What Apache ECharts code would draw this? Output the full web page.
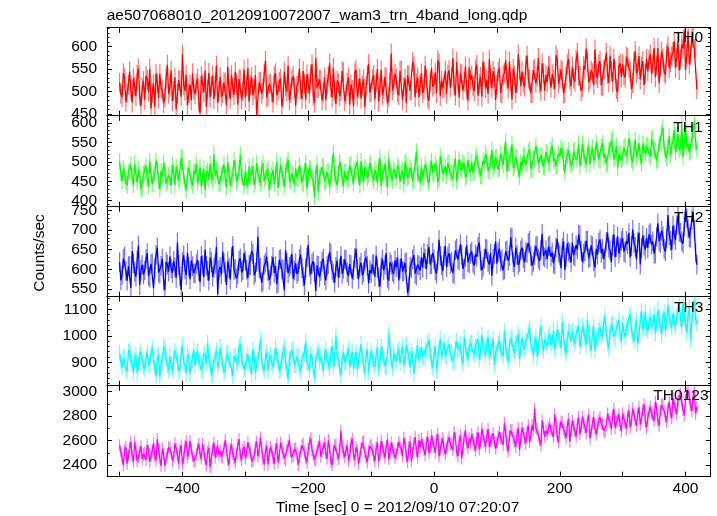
<!DOCTYPE html>
<html><head><meta charset="utf-8">
<script src="https://cdn.jsdelivr.net/npm/echarts@6/dist/echarts.min.js"></script>
<style>html,body{margin:0;padding:0;background:#fff}#c{width:717px;height:516px}</style>
</head><body><div id="c"></div>
<script>
// time bins (sec): first bin and bin width
const binStart = -500, binWidth = 2;

const th0 = [
520,496,488,541,531,478,497,515,545,503,476,529,512,490,538,552,493,468,509,524,
482,535,527,499,551,463,498,517,466,540,519,486,540,508,503,474,487,529,560,495,
511,547,479,502,532,461,495,526,524,489,583,514,502,538,470,497,516,481,541,505,
494,518,529,477,452,535,518,499,547,466,505,542,488,513,536,484,512,558,475,501,
533,489,497,521,520,470,556,506,484,537,509,493,544,519,471,528,526,483,500,549,
487,514,552,478,515,532,492,505,537,449,448,521,523,496,506,540,569,487,490,517,
518,499,476,534,541,492,503,522,529,468,486,545,512,500,558,481,497,527,534,510,
469,513,521,551,505,484,546,518,483,539,517,496,539,561,492,475,575,508,508,527,
526,481,498,532,481,517,534,563,510,487,553,502,472,525,519,490,502,546,543,479,
495,520,532,471,516,504,468,541,549,489,507,530,485,513,528,466,511,537,562,498,
499,528,537,483,520,551,478,509,548,492,506,533,531,474,489,519,585,503,515,540,
530,499,492,546,548,481,511,529,475,537,536,502,503,566,557,488,519,532,488,514,
541,497,506,558,529,486,480,523,552,511,517,543,497,570,563,490,524,508,509,547,
495,538,548,509,531,574,513,492,566,525,487,541,539,503,522,556,505,480,554,527,
537,512,501,549,560,491,518,533,489,567,544,508,527,495,572,531,508,546,533,481,
515,544,553,498,496,536,541,570,528,507,567,523,482,551,536,497,519,583,549,512,
545,521,511,558,580,529,526,497,497,548,551,519,534,575,518,502,563,541,502,537,
521,556,558,509,539,527,506,581,572,518,530,549,545,496,497,534,561,573,527,512,
556,529,522,571,587,535,535,502,510,558,549,596,566,521,528,547,541,515,594,538,
530,561,568,514,512,549,551,587,539,520,580,545,521,573,547,506,499,558,563,532,
562,537,531,578,575,552,545,506,519,567,590,541,550,579,527,556,568,515,540,573,
545,572,583,540,561,597,532,558,597,519,556,589,574,543,538,585,601,552,566,579,
589,612,553,577,612,548,571,605,596,636,548,583,634,561,580,619,621,595,598,505];

const th1 = [
500,471,451,483,470,446,439,474,476,492,458,441,495,466,447,480,466,429,432,469,
474,490,455,437,501,468,443,459,468,503,487,451,430,476,462,497,479,444,449,465,
459,438,492,470,441,487,473,452,456,510,511,463,446,428,467,484,483,450,438,476,
469,495,448,461,486,437,460,482,427,470,477,453,495,464,452,519,464,478,481,442,
445,467,472,493,458,434,499,471,440,456,466,505,484,448,453,476,518,462,461,437,
476,452,437,488,463,471,489,440,452,497,470,459,445,483,496,451,459,474,482,428,
450,466,479,443,466,500,433,461,491,478,457,436,474,492,505,455,448,470,468,441,
483,459,455,490,472,447,442,476,497,430,463,485,480,458,451,409,469,493,421,462,
464,487,490,451,447,473,476,436,458,494,523,467,452,440,471,499,486,455,439,475,
473,452,456,491,494,462,445,478,480,501,462,440,501,471,449,486,477,458,466,497,
492,461,451,479,470,446,487,510,438,466,475,494,459,433,508,480,463,452,481,474,
457,490,484,449,469,477,442,500,496,458,464,485,478,451,453,493,527,468,471,446,
488,459,461,493,479,452,445,485,502,471,467,496,485,448,456,514,495,468,474,488,
463,497,497,470,472,455,489,508,451,476,506,484,477,498,492,459,466,504,484,472,
500,471,473,509,516,488,481,464,462,503,494,520,508,477,476,499,531,481,489,512,
512,479,484,521,503,492,527,552,475,497,498,519,545,484,490,513,509,478,461,500,
486,515,518,492,497,526,532,481,479,508,507,540,521,495,493,517,515,487,484,525,
523,496,495,530,541,502,508,489,488,522,514,536,529,497,472,509,517,530,503,491,
497,526,531,505,512,547,489,511,547,522,506,493,524,539,493,520,536,502,515,549,
532,507,503,538,548,511,519,494,496,530,527,555,560,506,510,541,485,519,523,503,
508,536,541,512,517,560,535,506,499,529,556,513,524,548,512,495,547,532,521,540,
544,520,513,558,562,529,530,503,506,546,549,575,588,533,521,509,538,566,516,541,
553,582,524,545,571,530,537,596,512,551,595,537,546,524,528,559,560,604,549,532];

const th2 = [
618,572,585,627,632,596,571,608,609,553,646,615,594,581,623,660,560,599,611,587,
597,625,641,583,579,614,616,552,603,637,655,592,588,609,627,570,548,619,612,594,
633,602,591,621,605,578,668,611,582,547,619,636,600,585,642,606,575,622,608,590,
589,613,624,596,567,634,611,580,650,609,596,571,630,618,581,603,614,657,537,598,
606,587,645,616,593,560,620,603,574,631,659,598,601,577,587,622,628,592,598,641,
621,599,578,612,610,646,639,585,592,619,683,602,604,566,569,611,617,632,595,573,
584,609,631,590,608,563,566,624,626,600,599,547,648,617,590,606,612,639,576,597,
615,588,594,626,637,603,581,559,603,631,662,607,587,614,620,593,545,610,609,580,
596,619,627,584,572,608,613,644,640,597,590,566,606,622,579,603,634,588,601,625,
624,592,583,613,611,576,598,629,652,601,575,607,617,585,593,622,630,609,564,598,
590,612,614,581,635,603,580,556,607,626,597,611,641,578,571,618,612,594,588,623,
605,630,572,601,628,594,595,616,618,540,556,607,603,625,636,589,584,612,610,597,
631,604,642,627,600,639,657,612,613,642,626,598,589,623,675,634,610,596,634,659,
605,633,641,614,619,591,587,648,653,625,622,664,636,601,600,631,661,618,615,639,
645,616,610,638,632,657,668,621,598,606,627,652,651,619,612,640,583,627,639,671,
614,643,652,620,625,597,600,646,648,622,633,681,679,618,606,655,637,611,619,648,
655,628,618,644,641,667,672,634,609,619,636,658,660,627,621,650,690,634,630,649,
626,658,661,632,643,615,612,655,677,643,635,603,654,671,598,630,666,645,641,618,
668,636,632,661,650,688,687,647,619,640,646,673,673,628,630,661,658,620,604,652,
637,668,676,641,652,626,625,670,693,655,648,618,662,689,631,656,684,640,655,672,
679,645,641,672,664,692,630,658,701,667,657,625,669,693,612,654,686,661,650,679,
654,689,692,663,671,640,640,682,717,671,666,698,684,652,645,679,738,687,672,650,
711,688,674,712,736,695,693,671,665,709,752,730,703,681,680,725,745,699,642,612];

const th3 = [
935,902,880,918,921,874,866,939,947,910,893,861,910,927,859,895,928,943,901,884,
874,915,938,889,897,931,955,904,882,847,916,930,843,898,907,960,951,913,889,870,
923,890,869,912,944,925,901,866,878,934,962,899,891,858,930,917,855,900,912,949,
886,927,941,904,903,871,868,935,927,896,974,913,895,850,852,908,918,945,880,899,
957,918,898,861,872,932,936,905,909,876,847,924,925,902,890,959,968,911,904,873,
876,906,931,896,894,855,949,920,861,893,913,942,987,904,885,866,920,938,867,912,
929,897,883,915,956,926,902,868,871,906,940,958,898,875,834,912,917,946,950,889,
890,921,924,880,865,913,911,937,979,900,896,871,933,916,873,842,906,930,946,903,
921,893,869,928,948,907,899,876,930,961,884,910,1002,925,911,874,852,917,937,900,
895,929,952,881,914,940,878,905,940,872,906,933,969,918,887,860,925,948,863,909,
944,915,898,883,925,958,871,900,959,931,912,886,880,924,1010,951,903,878,934,917,
903,936,951,898,927,961,889,914,966,940,918,879,942,927,856,903,935,962,909,929,
957,920,914,948,941,969,985,932,902,879,933,961,868,912,952,988,921,939,976,925,
922,955,968,931,937,905,899,951,981,947,944,968,916,893,995,958,931,910,958,972,
975,940,929,963,956,989,910,937,1003,958,947,925,970,995,918,941,962,987,889,935,
938,971,982,945,951,923,1019,966,927,902,963,990,994,948,935,974,970,1008,912,951,
991,959,948,982,976,1014,1030,972,955,925,969,996,921,958,1002,1037,960,943,986,974,
961,995,1008,966,977,1021,946,983,1025,998,983,952,1052,1001,954,931,990,1016,1014,979,
1019,987,970,1008,1003,1041,957,990,1038,1016,992,964,1061,1009,968,945,1011,1034,944,990,
981,1019,1032,995,1006,1050,1074,1011,972,952,1015,1043,1045,996,989,1028,1024,1061,1001,980,
1047,1012,995,1033,1029,1066,1082,1020,1004,979,1036,1058,968,1001,1059,1094,1021,1040,1090,1027,
1018,1055,1071,1033,1045,1082,1009,1042,1098,1060,1038,1005,1064,1088,1022,1049,1117,1069,1052,1031,
1084,1049,1036,1075,1093,1126,1061,1033,1128,1079,1047,1010,1079,1105,985,1052,1101,1134,1066,1045];

const th0123 = [
2560,2512,2455,2398,2520,2547,2410,2476,2538,2591,2472,2430,2590,2515,2431,2467,2505,2552,2448,2491,
2497,2441,2563,2520,2425,2474,2518,2580,2470,2436,2612,2529,2451,2392,2533,2488,2392,2459,2489,2545,
2541,2503,2436,2467,2576,2531,2483,2412,2519,2560,2407,2458,2552,2596,2466,2495,2598,2527,2474,2432,
2429,2486,2535,2572,2489,2451,2571,2518,2445,2399,2508,2540,2381,2463,2527,2582,2461,2510,2556,2485,
2512,2468,2463,2537,2603,2524,2441,2402,2530,2569,2490,2453,2418,2495,2567,2612,2476,2440,2521,2550,
2458,2501,2585,2537,2500,2429,2433,2476,2547,2590,2471,2516,2626,2541,2452,2405,2515,2553,2404,2487,
2548,2517,2461,2410,2529,2572,2419,2480,2582,2538,2493,2454,2440,2521,2557,2601,2508,2463,2476,2530,
2533,2490,2398,2467,2511,2559,2574,2506,2455,2421,2529,2583,2618,2522,2482,2444,2436,2515,2551,2597,
2469,2512,2540,2584,2492,2451,2603,2537,2425,2398,2517,2560,2563,2489,2448,2527,2680,2546,2502,2465,
2521,2557,2434,2478,2579,2616,2487,2439,2545,2518,2413,2468,2532,2584,2595,2506,2460,2422,2514,2553,
2566,2523,2472,2431,2538,2581,2428,2487,2597,2546,2506,2459,2551,2610,2449,2494,2584,2537,2497,2461,
2488,2537,2589,2548,2527,2473,2621,2572,2470,2426,2546,2592,2432,2498,2573,2628,2515,2463,2604,2551,
2612,2569,2523,2480,2585,2631,2497,2542,2641,2596,2548,2501,2603,2655,2470,2529,2576,2617,2530,2488,
2538,2594,2627,2571,2571,2522,2669,2615,2512,2473,2596,2641,2454,2533,2633,2682,2580,2538,2617,2576,
2652,2609,2563,2518,2619,2667,2528,2581,2698,2642,2591,2550,2640,2694,2547,2596,2611,2659,2585,2536,
2583,2630,2671,2619,2617,2566,2745,2668,2560,2511,2638,2683,2685,2622,2594,2549,2652,2701,2524,2610,
2704,2661,2618,2574,2671,2722,2587,2640,2729,2684,2860,2702,2694,2637,2605,2560,2766,2697,2632,2681,
2651,2703,2738,2689,2679,2627,2815,2741,2631,2585,2702,2756,2749,2690,2667,2619,2723,2778,2590,2684,
2764,2718,2680,2631,2738,2789,2652,2706,2795,2747,2709,2660,2758,2812,2618,2681,2741,2793,2697,2650,
2710,2763,2792,2741,2734,2681,2667,2724,2821,2776,2748,2697,2803,2858,2701,2750,2769,2815,2726,2679,
2823,2774,2741,2697,2799,2848,2708,2760,2862,2811,2770,2722,2815,2873,2731,2784,2850,2897,2759,2706,
2789,2838,2874,2821,2811,2762,2916,2863,2768,2722,2842,2891,2901,2840,2795,2751,2862,2917,2830,2783,
2947,2896,2861,2817,2925,2974,2980,2921,2852,2806,2936,2985,3012,2948,2884,2843,2955,3008,2820,2875];

const panelNames = ['TH0', 'TH1', 'TH2', 'TH3', 'TH0123'];
const seriesValues = [th0, th1, th2, th3, th0123];
const errHalf = [22, 21, 25, 30, 50];
const yMin = [446.7, 384.6, 530.4, 811.7, 2304];
const yMax = [642.2, 618.3, 759, 1147.5, 3049];
const yMajor = [[450,500,550,600],[400,450,500,550,600],[550,600,650,700,750],[900,1000,1100],[2400,2600,2800,3000]];
const yMinorStep = [10, 10, 10, 20, 100];
const xTickValues = [-500,-400,-300,-200,-100,0,100,200,300,400];
const xLabelValues = [-400,-200,0,200,400];
const xMin = -520, xMax = 440;

const lineColors = ['#ff0000', '#00ff00', '#0000ff', '#00ffff', '#ff00ff'];
const errColors = ['rgba(255,0,0,0.55)', 'rgba(0,255,0,0.55)', 'rgba(0,0,255,0.55)', 'rgba(0,255,255,0.55)', 'rgba(255,0,255,0.55)'];
const gridTops = [27.7, 115.7, 206.7, 296.7, 385.7];
const gridBottoms = [115.7, 206.7, 296.7, 385.7, 476.7];
const labelY = [37.3, 127.3, 217.3, 307.3, 396];
const labelRight = [703, 702.5, 703.3, 703.3, 708.5];

const FONT = "'Liberation Sans', Arial, Helvetica, sans-serif";
const FS = 15.5;
const INK = '#000';

function minorValues(i) {
  const out = [];
  const s = yMinorStep[i];
  for (let v = Math.ceil(yMin[i] / s) * s; v <= yMax[i]; v += s) out.push(v);
  return out;
}
const fmt = v => (v < 0 ? '\u2212' : '') + String(Math.abs(v));

const grid = [], xAxis = [], yAxis = [], series = [], graphic = [];
for (let i = 0; i < 5; i++) {
  grid.push({left: 107, width: 603.7, top: gridTops[i], height: gridBottoms[i] - gridTops[i], show: false});
  const xBase = {
    type: 'value', gridIndex: i, min: xMin, max: xMax,
    splitLine: {show: false},
    axisLine: {show: true, onZero: false, lineStyle: {color: INK, width: 1}},
    axisTick: {show: true, inside: true, length: 5, customValues: xTickValues, lineStyle: {color: INK, width: 1}},
  };
  xAxis.push(Object.assign({}, xBase, {
    position: 'bottom',
    axisLabel: {show: i === 4, customValues: xLabelValues, formatter: fmt, margin: 4,
      fontFamily: FONT, fontSize: FS, color: INK}
  }));
  xAxis.push(Object.assign({}, xBase, {position: 'top', axisLabel: {show: false}}));
  const yBase = {type: 'value', gridIndex: i, min: yMin[i], max: yMax[i], splitLine: {show: false}};
  yAxis.push(Object.assign({}, yBase, {
    position: 'left',
    axisLine: {show: true, onZero: false, lineStyle: {color: INK, width: 1}},
    axisTick: {show: true, inside: true, length: 5, customValues: yMajor[i], lineStyle: {color: INK, width: 1}},
    axisLabel: {show: true, customValues: yMajor[i], formatter: fmt, margin: 10, fontFamily: FONT, fontSize: FS, color: INK}
  }));
  yAxis.push(Object.assign({}, yBase, {
    position: 'left', axisLine: {show: false, onZero: false},
    axisTick: {show: true, inside: true, length: 2.5, customValues: minorValues(i), lineStyle: {color: INK, width: 1}},
    axisLabel: {show: false}
  }));
  yAxis.push(Object.assign({}, yBase, {
    position: 'right',
    axisLine: {show: true, onZero: false, lineStyle: {color: INK, width: 1}},
    axisTick: {show: true, inside: true, length: 5, customValues: yMajor[i], lineStyle: {color: INK, width: 1}},
    axisLabel: {show: false}
  }));
  yAxis.push(Object.assign({}, yBase, {
    position: 'right', axisLine: {show: false, onZero: false},
    axisTick: {show: true, inside: true, length: 2.5, customValues: minorValues(i), lineStyle: {color: INK, width: 1}},
    axisLabel: {show: false}
  }));

  const pts = seriesValues[i].map((v, k) => [binStart + k * binWidth, v]);
  const err = errHalf[i], ec = errColors[i];
  series.push({
    type: 'custom', xAxisIndex: 2 * i, yAxisIndex: 4 * i, data: pts, clip: true, silent: true, z: 2,
    renderItem: (params, api) => {
      const t = api.value(0), v = api.value(1);
      const a = api.coord([t, v - err]), b = api.coord([t, v + err]);
      return {type: 'line', shape: {x1: a[0], y1: a[1], x2: b[0], y2: b[1]}, style: {stroke: ec, lineWidth: 1.2}};
    }
  });
  series.push({
    type: 'line', xAxisIndex: 2 * i, yAxisIndex: 4 * i, data: pts, showSymbol: false, symbol: 'none',
    sampling: null, clip: true, silent: true, z: 3, lineStyle: {color: lineColors[i], width: 1.3}
  });
  graphic.push({type: 'text', x: labelRight[i], y: labelY[i], z: 10,
    style: {text: panelNames[i], fill: INK, font: FS + 'px ' + FONT, textAlign: 'right', textVerticalAlign: 'middle'}});
}
graphic.push({type: 'text', x: 106.7, y: 15.5,
  style: {text: 'ae507068010_20120910072007_wam3_trn_4band_long.qdp', fill: INK, font: FS + 'px ' + FONT, textAlign: 'left', textVerticalAlign: 'middle'}});
graphic.push({type: 'text', x: 397.5, y: 507.5,
  style: {text: 'Time [sec] 0 = 2012/09/10 07:20:07', fill: INK, font: FS + 'px ' + FONT, textAlign: 'center', textVerticalAlign: 'middle'}});
graphic.push({type: 'text', x: 40, y: 253, rotation: Math.PI / 2,
  style: {text: 'Counts/sec', fill: INK, font: FS + 'px ' + FONT, textAlign: 'center', textVerticalAlign: 'middle'}});

const chart = echarts.init(document.getElementById('c'), null, {renderer: 'canvas'});
chart.setOption({animation: false, backgroundColor: '#fff', grid, xAxis, yAxis, series, graphic});
</script></body></html>
